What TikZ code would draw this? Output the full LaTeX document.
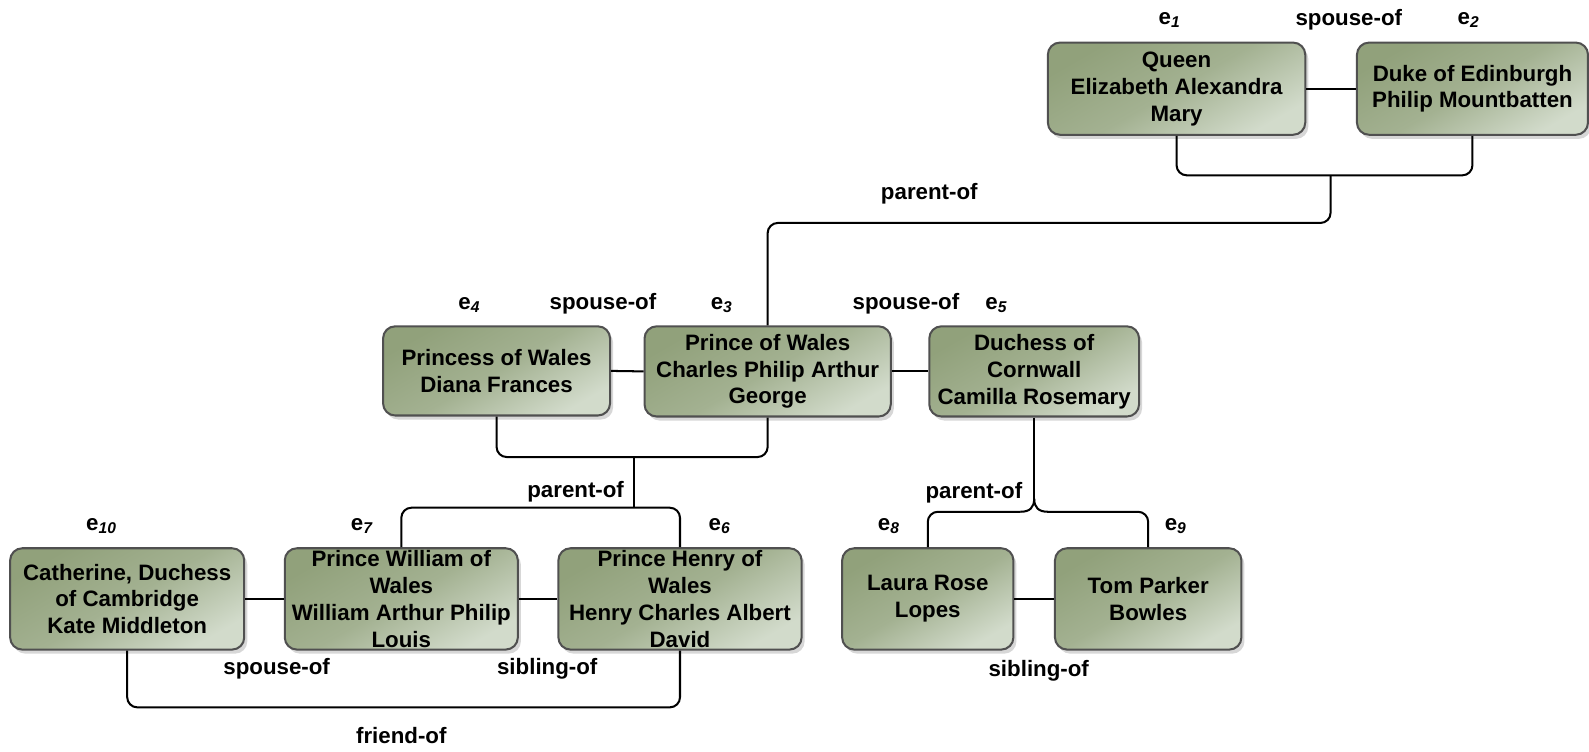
\documentclass[tikz,border=0pt]{standalone}
\usepackage{fontspec}
\setmainfont{Liberation Sans}
\usetikzlibrary{shadows}

\definecolor{boxdark}{RGB}{145,161,123}
\definecolor{boxlight}{RGB}{210,219,203}
\definecolor{boxedge}{RGB}{80,80,80}

\begin{document}
\begin{tikzpicture}[x=1pt,y=-1pt,
  font=\fontsize{22}{26.5}\selectfont\bfseries,
  person/.style={draw=boxedge, line width=2pt, rounded corners=12pt, inner sep=0pt,
    top color=boxdark, bottom color=boxlight, middle color=boxdark!72!boxlight,
    shading angle=30,
    drop shadow={shadow xshift=3pt, shadow yshift=-4pt, fill=black!35, opacity=0.45}},
  ptext/.style={align=center, inner sep=0pt},
  conn/.style={draw=black, line width=2pt},
  reltext/.style={inner sep=0pt},
  entlabel/.style={inner sep=0pt, anchor=base}
]
\useasboundingbox (0,0) rectangle (1568,742);

% ---------- people ----------
\node[person, minimum width=254pt, minimum height=91pt] (e1) at (1161,87.5) {};
\node[ptext] (e1t) at (e1) {Queen\\Elizabeth Alexandra\\Mary};

\node[person, minimum width=228pt, minimum height=91pt] (e2) at (1453,87.5) {};
\node[ptext] (e2t) at (e2) {Duke of Edinburgh\\Philip Mountbatten};

\node[person, minimum width=243pt, minimum height=89pt] (e3) at (757.5,366.5) {};
\node[ptext] (e3t) at (e3) {Prince of Wales\\Charles Philip Arthur\\George};

\node[person, minimum width=224pt, minimum height=88pt] (e4) at (490,366) {};
\node[ptext] (e4t) at (e4) {Princess of Wales\\Diana Frances};

\node[person, minimum width=207pt, minimum height=89pt] (e5) at (1020.5,366.5) {};
\node[ptext] (e5t) at (e5) {Duchess of\\Cornwall\\Camilla Rosemary};

\node[person, minimum width=231pt, minimum height=100pt] (e10) at (125.5,591) {};
\node[ptext] (e10t) at (e10) {Catherine, Duchess\\of Cambridge\\Kate Middleton};

\node[person, minimum width=230pt, minimum height=100pt] (e7) at (396,591) {};
\node[ptext] (e7t) at (e7) {Prince William of\\Wales\\William Arthur Philip\\Louis};

\node[person, minimum width=240pt, minimum height=100pt] (e6) at (671,591) {};
\node[ptext] (e6t) at (e6) {Prince Henry of\\Wales\\Henry Charles Albert\\David};

\node[person, minimum width=169pt, minimum height=100pt] (e8) at (915.5,591) {};
\node[ptext] (e8t) at (e8) {Laura Rose\\Lopes};

\node[person, minimum width=184pt, minimum height=100pt] (e9) at (1133,591) {};
\node[ptext] (e9t) at (e9) {Tom Parker\\Bowles};

% ---------- spouse / sibling links ----------
\draw[conn] (e1.east) -- (e2.west);
\draw[conn] (e4.east) -- (e3.west);
\draw[conn] (e3.east) -- (e5.west);
\draw[conn] (e10.east) -- (e7.west);
\draw[conn] (e7.east) -- (e6.west);
\draw[conn] (e8.east) -- (e9.west);

% ---------- parent links ----------
\coordinate (j1) at (1313,173);
\draw[conn, rounded corners=10pt] (e1.south) -- (1161,173) -| (e2.south);
\draw[conn, rounded corners=10pt] (j1) -- (1313,220) -| (e3.north);

\coordinate (j2) at (626,451);
\coordinate (j3) at (626,501);
\draw[conn, rounded corners=10pt] (e4.south) -- (490,451) -| (e3.south);
\draw[conn] (j2) -- (j3);
\draw[conn, rounded corners=10pt] (e7.north) |- (j3) -| (e6.north);

\coordinate (b5) at (1020.5,492);
\coordinate (b5l) at (1007,505);
\coordinate (b5r) at (1034,505);
\draw[conn] (e5.south) -- (b5);
\draw[conn, rounded corners=10pt] (e8.north) |- (b5l);
\draw[conn] (b5l) .. controls (1016,505) and (1020.5,501) .. (b5);
\draw[conn, rounded corners=10pt] (e9.north) |- (b5r);
\draw[conn] (b5r) .. controls (1025,505) and (1020.5,501) .. (b5);

% ---------- friend link ----------
\draw[conn, rounded corners=10pt] (e10.south) -- (125.5,698) -| (e6.south);

% ---------- relation labels ----------
\node[reltext] (r1) at (1331,19) {spouse-of};
\node[reltext] (r2) at (917,191) {parent-of};
\node[reltext] (r3) at (595,300) {spouse-of};
\node[reltext] (r4) at (894,300) {spouse-of};
\node[reltext] (r5) at (568,485) {parent-of};
\node[reltext] (r6) at (961,486) {parent-of};
\node[reltext] (r7) at (273,660) {spouse-of};
\node[reltext] (r8) at (540,660) {sibling-of};
\node[reltext] (r9) at (1025,662) {sibling-of};
\node[reltext] (r10) at (396,726) {friend-of};

% ---------- entity labels ----------
\node[entlabel] (n1) at (1154,24) {e\textsubscript{\itshape 1}};
\node[entlabel] (n2) at (1449,24) {e\textsubscript{\itshape 2}};
\node[entlabel] (n3) at (712,305) {e\textsubscript{\itshape 3}};
\node[entlabel] (n4) at (463,305) {e\textsubscript{\itshape 4}};
\node[entlabel] (n5) at (983,305) {e\textsubscript{\itshape 5}};
\node[entlabel] (n6) at (710,523) {e\textsubscript{\itshape 6}};
\node[entlabel] (n7) at (357,523) {e\textsubscript{\itshape 7}};
\node[entlabel] (n8) at (877,523) {e\textsubscript{\itshape 8}};
\node[entlabel] (n9) at (1160,523) {e\textsubscript{\itshape 9}};
\node[entlabel] (n10) at (100,523) {e\textsubscript{\itshape 10}};
\end{tikzpicture}
\end{document}
